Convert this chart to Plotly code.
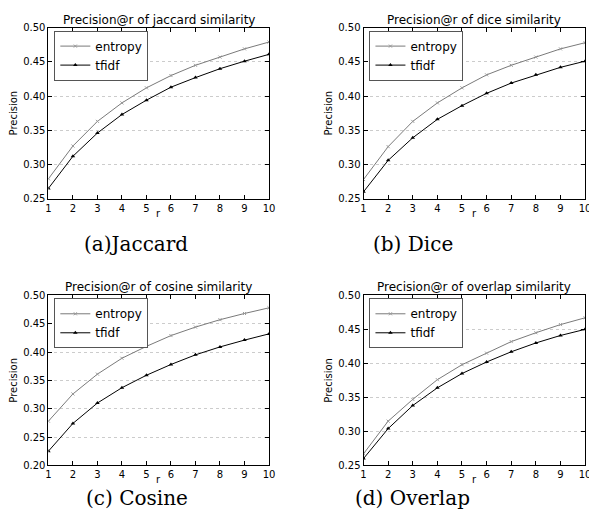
import plotly.graph_objects as go

r = [1, 2, 3, 4, 5, 6, 7, 8, 9, 10]

jaccard_entropy = [0.279, 0.327, 0.363, 0.390, 0.412, 0.430, 0.445, 0.457, 0.469, 0.479]
jaccard_tfidf = [0.265, 0.312, 0.346, 0.373, 0.394, 0.413, 0.427, 0.440, 0.451, 0.461]

dice_entropy = [0.278, 0.326, 0.363, 0.390, 0.412, 0.431, 0.445, 0.457, 0.469, 0.478]
dice_tfidf = [0.260, 0.306, 0.339, 0.366, 0.386, 0.404, 0.419, 0.431, 0.442, 0.451]

cosine_entropy = [0.278, 0.326, 0.361, 0.389, 0.410, 0.429, 0.444, 0.457, 0.468, 0.478]
cosine_tfidf = [0.225, 0.274, 0.310, 0.337, 0.359, 0.378, 0.395, 0.409, 0.421, 0.432]

overlap_entropy = [0.267, 0.315, 0.347, 0.376, 0.398, 0.415, 0.432, 0.445, 0.457, 0.467]
overlap_tfidf = [0.260, 0.304, 0.338, 0.364, 0.385, 0.402, 0.417, 0.430, 0.441, 0.450]

titles = ["Precision@r of jaccard similarity", "Precision@r of dice similarity",
          "Precision@r of cosine similarity", "Precision@r of overlap similarity"]
captions = ["(a)Jaccard", "(b) Dice", "(c) Cosine", "(d) Overlap"]
yranges = [[0.25, 0.50], [0.25, 0.50], [0.20, 0.50], [0.25, 0.50]]
series = [(jaccard_entropy, jaccard_tfidf), (dice_entropy, dice_tfidf),
          (cosine_entropy, cosine_tfidf), (overlap_entropy, overlap_tfidf)]

OFF = 8  # browser body margin
W, H = 597 - OFF, 528 - OFF
# plot-area boxes in window pixels (left, right, top, bottom)
boxes = [(46, 270, 22, 197), (366, 591, 22, 197), (46, 270, 296, 470), (366, 591, 296, 470)]
caption_xy = [(135, 243), (416, 243), (136, 503), (416, 503)]
rlabel_y = [212, 212, 485, 485]


def px(x):
    return (x - OFF) / W


def py(y):
    return 1 - (y - OFF) / H


fig = go.Figure()
layout = dict(width=W, height=H, autosize=False, margin=dict(l=0, r=0, t=0, b=0),
              paper_bgcolor="white", plot_bgcolor="white",
              font=dict(family="DejaVu Sans", color="black"), annotations=[])

for i in range(4):
    l, rr, t, b = boxes[i]
    sfx = "" if i == 0 else str(i + 1)
    xa, ya = "x" + sfx, "y" + sfx
    leg = "legend" + sfx
    ent, tf = series[i]
    fig.add_trace(go.Scatter(x=r, y=ent, mode="lines+markers", name="entropy",
                             line=dict(color="#7a7a7a", width=1),
                             marker=dict(symbol="x-thin", size=3, line=dict(color="#999999", width=1)),
                             xaxis=xa, yaxis=ya, legend=leg))
    fig.add_trace(go.Scatter(x=r, y=tf, mode="lines+markers", name="tfidf",
                             line=dict(color="black", width=1),
                             marker=dict(symbol="triangle-up", size=4, color="black"),
                             xaxis=xa, yaxis=ya, legend=leg))
    axcommon = dict(showline=True, linecolor="black", linewidth=1, mirror="allticks",
                    ticks="inside", ticklen=4, tickcolor="black", zeroline=False,
                    tickfont=dict(size=10, family="DejaVu Sans"))
    layout["xaxis" + sfx] = dict(domain=[px(l), px(rr)], anchor=ya, range=[1, 10], dtick=1,
                                 showgrid=False, **axcommon)
    layout["yaxis" + sfx] = dict(domain=[py(b), py(t)], anchor=xa, range=yranges[i], dtick=0.05,
                                 tickformat=".2f", showgrid=True, gridcolor="#cccccc",
                                 griddash="dot", gridwidth=1,
                                 title=dict(text="Precision", font=dict(size=10), standoff=3),
                                 **axcommon)
    layout[leg] = dict(x=px(l + 6), y=py(t + 3), xanchor="left", yanchor="top",
                       bordercolor="#555555", borderwidth=1, bgcolor="white",
                       font=dict(size=12), tracegroupgap=0, itemwidth=30)
    layout["annotations"].append(dict(text=titles[i], x=px((l + rr) / 2), y=py(t + 1),
                                      xref="paper", yref="paper", xanchor="center",
                                      yanchor="bottom", showarrow=False,
                                      font=dict(size=12, family="DejaVu Sans")))
    layout["annotations"].append(dict(text="r", x=px((l + rr) / 2), y=py(rlabel_y[i]),
                                      xref="paper", yref="paper", xanchor="center",
                                      yanchor="middle", showarrow=False,
                                      font=dict(size=10, family="DejaVu Sans")))
    cx, cy = caption_xy[i]
    layout["annotations"].append(dict(text=captions[i], x=px(cx), y=py(cy),
                                      xref="paper", yref="paper", xanchor="center",
                                      yanchor="middle", showarrow=False,
                                      font=dict(size=20, family="DejaVu Serif")))

fig.update_layout(**layout)
fig.write_html("out.html")
